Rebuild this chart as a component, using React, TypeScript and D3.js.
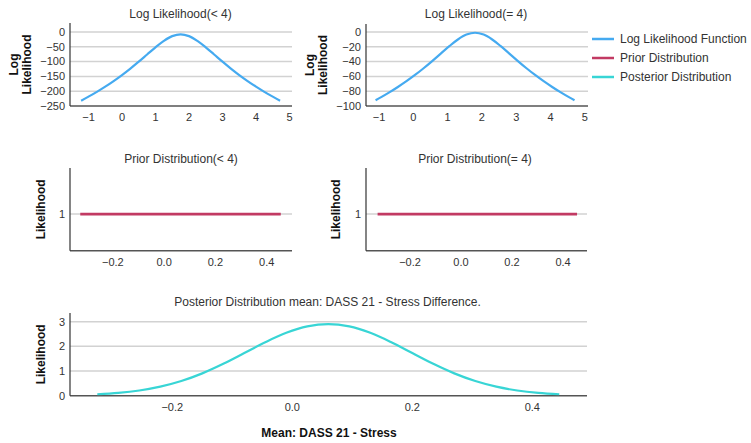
import React from "react";
import * as d3 from "d3";

// ---- Data ----
const llLessX = [-1.22, -1.0, -0.75, -0.5, -0.25, 0, 0.25, 0.5, 0.75, 1.0, 1.25, 1.5, 1.75, 2.0, 2.25, 2.5, 2.75, 3.0, 3.25, 3.5, 3.75, 4.0, 4.25, 4.5, 4.72];
const llLessY = [-232, -218.4, -202.1, -184.6, -165.7, -145.4, -123.5, -100.2, -75.9, -51.7, -29.9, -13.9, -8, -13.9, -29.9, -51.7, -75.9, -100.2, -123.5, -145.4, -165.7, -184.6, -202.1, -218.4, -232];

const llEqX = [-1.1, -0.95, -0.7, -0.45, -0.2, 0.05, 0.3, 0.55, 0.8, 1.05, 1.3, 1.55, 1.8, 2.05, 2.3, 2.55, 2.8, 3.05, 3.3, 3.55, 3.8, 4.05, 4.3, 4.55, 4.7];
const llEqY = [-92.2, -88.4, -81.6, -74.3, -66.5, -58.1, -49.0, -39.3, -29.2, -19.2, -10.1, -3.5, -1, -3.5, -10.1, -19.2, -29.2, -39.3, -49.0, -58.1, -66.5, -74.3, -81.6, -88.4, -92.2];

const priorX = [-0.327, 0.455];
const priorY = [1, 1];

const postX = [-0.325, -0.29, -0.255, -0.22, -0.185, -0.15, -0.115, -0.08, -0.045, -0.01, 0.025, 0.06, 0.095, 0.13, 0.165, 0.2, 0.235, 0.27, 0.305, 0.34, 0.375, 0.41, 0.445];
const postY = [0.058, 0.114, 0.211, 0.366, 0.594, 0.905, 1.292, 1.728, 2.167, 2.548, 2.808, 2.9, 2.808, 2.548, 2.167, 1.728, 1.292, 0.905, 0.594, 0.366, 0.211, 0.114, 0.058];

const llXTicks = [-1, 0, 1, 2, 3, 4, 5];
const llLessYTicks = [0, -50, -100, -150, -200, -250];
const llEqYTicks = [0, -20, -40, -60, -80, -100];
const meanXTicks = [-0.2, 0, 0.2, 0.4];
const priorYTicks = [1];
const postYTicks = [0, 1, 2, 3];

const legendLabels = ["Log Likelihood Function", "Prior Distribution", "Posterior Distribution"];
const seriesColors = ["#45aaf0", "#c23a63", "#38d5d5"];

const FONT = "'Liberation Sans', Arial, sans-serif";
const TEXT = "#333";

type PanelProps = {
  left: number; right: number; top: number; bottom: number;
  xDomain: [number, number]; yDomain: [number, number];
  xTicks: number[]; yTicks: number[];
  xFmt: (v: number) => string; yFmt: (v: number) => string;
  xs: number[]; ys: number[]; color: string; width: number;
  title: string; titleX: number; titleY: number;
  yLabel: string[]; yLabelX: number[]; 
};

function Panel(p: PanelProps) {
  const x = d3.scaleLinear().domain(p.xDomain).range([p.left, p.right]);
  const y = d3.scaleLinear().domain(p.yDomain).range([p.bottom, p.top]);
  const pts = p.xs.map((v, i) => [v, p.ys[i]] as [number, number]);
  const line = d3.line<[number, number]>().x(d => x(d[0])).y(d => y(d[1])).curve(d3.curveCatmullRom.alpha(0.5));
  const midY = (p.top + p.bottom) / 2;
  const bottomVal = p.yDomain[0];
  return (
    <g>
      {p.yTicks.filter(t => Math.abs(y(t) - p.bottom) > 1).map(t => (
        <line key={"g" + t} x1={p.left} x2={p.right} y1={y(t)} y2={y(t)} stroke="#d2d2d2" strokeWidth={1.5} />
      ))}
      <line x1={p.left} x2={p.right} y1={p.bottom} y2={p.bottom} stroke="#555" strokeWidth={1.5} />
      <line x1={p.left} x2={p.left} y1={p.top} y2={p.bottom} stroke="#333" strokeWidth={1.2} />
      {p.yTicks.map(t => (
        <text key={"y" + t} x={p.left - 5} y={y(t)} dy="0.35em" textAnchor="end" fontSize={11} fill={TEXT} fontFamily={FONT}>{p.yFmt(t)}</text>
      ))}
      {p.xTicks.map(t => (
        <text key={"x" + t} x={x(t)} y={p.bottom + 15} textAnchor="middle" fontSize={11} fill={TEXT} fontFamily={FONT}>{p.xFmt(t)}</text>
      ))}
      <path d={line(pts) || ""} fill="none" stroke={p.color} strokeWidth={p.width} />
      <text x={p.titleX} y={p.titleY} textAnchor="middle" fontSize={12} fill={TEXT} fontFamily={FONT}>{p.title}</text>
      {p.yLabel.map((s, i) => (
        <text key={"l" + i} transform={`translate(${p.yLabelX[i]},${midY}) rotate(-90)`} textAnchor="middle" fontSize={12} fontWeight="bold" fill="#111" fontFamily={FONT}>{s}</text>
      ))}
      {bottomVal === undefined ? null : null}
    </g>
  );
}

const fmtInt = d3.format("d");
const fmt1 = d3.format(".1f");
const fmtY = (v: number) => d3.format("d")(v);

export default function App() {
  return (
    <svg width={751} height={443} style={{ position: "absolute", left: 0, top: 0, background: "#fff" }}>
      <rect width={751} height={443} fill="#fff" />
      <Panel left={70} right={292} top={23} bottom={106} xDomain={[-1.552, 5.075]} yDomain={[-250, 30.4]}
        xTicks={llXTicks} yTicks={llLessYTicks} xFmt={fmtInt} yFmt={fmtY}
        xs={llLessX} ys={llLessY} color={seriesColors[0]} width={2.2}
        title="Log Likelihood(< 4)" titleX={180.5} titleY={18.3}
        yLabel={["Log", "Likelihood"]} yLabelX={[18, 31]} />
      <Panel left={366} right={588} top={24} bottom={106} xDomain={[-1.379, 5.093]} yDomain={[-100, 10.8]}
        xTicks={llXTicks} yTicks={llEqYTicks} xFmt={fmtInt} yFmt={fmtY}
        xs={llEqX} ys={llEqY} color={seriesColors[0]} width={2.2}
        title="Log Likelihood(= 4)" titleX={476} titleY={18.3}
        yLabel={["Log", "Likelihood"]} yLabelX={[313.5, 326.5]} />
      <Panel left={70} right={292} top={168} bottom={250.7} xDomain={[-0.367, 0.4988]} yDomain={[0.5, 1.63]}
        xTicks={meanXTicks} yTicks={priorYTicks} xFmt={fmt1} yFmt={fmtY}
        xs={priorX} ys={priorY} color={seriesColors[1]} width={2.7}
        title="Prior Distribution(< 4)" titleX={181} titleY={162.7}
        yLabel={["Likelihood"]} yLabelX={[45]} />
      <Panel left={366} right={587} top={168} bottom={250.7} xDomain={[-0.3725, 0.494]} yDomain={[0.5, 1.63]}
        xTicks={meanXTicks} yTicks={priorYTicks} xFmt={fmt1} yFmt={fmtY}
        xs={priorX} ys={priorY} color={seriesColors[1]} width={2.7}
        title="Prior Distribution(= 4)" titleX={475} titleY={162.7}
        yLabel={["Likelihood"]} yLabelX={[340]} />
      <Panel left={70} right={587} top={313} bottom={395.7} xDomain={[-0.3705, 0.4912]} yDomain={[0, 3.352]}
        xTicks={meanXTicks} yTicks={postYTicks} xFmt={fmt1} yFmt={fmtY}
        xs={postX} ys={postY} color={seriesColors[2]} width={2.2}
        title="Posterior Distribution mean: DASS 21 - Stress Difference." titleX={327.5} titleY={305.7}
        yLabel={["Likelihood"]} yLabelX={[45]} />
      <text x={329} y={436.7} textAnchor="middle" fontSize={12} fontWeight="bold" fill="#111" fontFamily={FONT}>Mean: DASS 21 - Stress</text>
      {legendLabels.map((s, i) => (
        <g key={s}>
          <line x1={592} x2={614} y1={39 + i * 19} y2={39 + i * 19} stroke={seriesColors[i]} strokeWidth={2.5} />
          <text x={620} y={39 + i * 19} dy="0.35em" fontSize={12} fill={TEXT} fontFamily={FONT}>{s}</text>
        </g>
      ))}
    </svg>
  );
}
